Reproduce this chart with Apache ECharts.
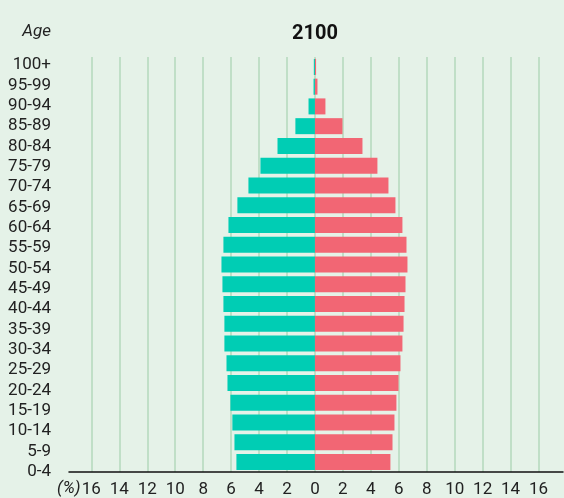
<!DOCTYPE html>
<html>
<head>
<meta charset="utf-8">
<script src="https://cdn.jsdelivr.net/npm/echarts@6/dist/echarts.min.js"></script>
<style>
  html, body { margin: 0; padding: 0; background: #e5f2e8; }
  #main { width: 564px; height: 498px; }
</style>
</head>
<body>
<div id="main"></div>
<script>
// age groups, bottom to top
const ageGroups = ['0-4', '5-9', '10-14', '15-19', '20-24', '25-29', '30-34', '35-39', '40-44', '45-49',
  '50-54', '55-59', '60-64', '65-69', '70-74', '75-79', '80-84', '85-89', '90-94', '95-99', '100+'];
// % of population
const male = [5.62, 5.76, 5.91, 6.05, 6.26, 6.33, 6.48, 6.48, 6.55, 6.62,
  6.69, 6.55, 6.19, 5.55, 4.76, 3.90, 2.68, 1.40, 0.46, 0.10, 0.08];
const female = [5.40, 5.55, 5.69, 5.83, 5.98, 6.12, 6.26, 6.34, 6.41, 6.48,
  6.62, 6.55, 6.26, 5.76, 5.26, 4.47, 3.40, 1.97, 0.75, 0.18, 0.08];
const tickValues = [-16, -14, -12, -10, -8, -6, -4, -2, 0, 2, 4, 6, 8, 10, 12, 14, 16];

const font = 'Roboto';
const chart = echarts.init(document.getElementById('main'));

const option = {
  backgroundColor: '#e5f2e8',
  animation: false,
  title: {
    text: '2100',
    left: 287,
    top: 19,
    textStyle: { fontFamily: font, fontSize: 20, fontWeight: 'bold', color: '#111' }
  },
  graphic: [
    {
      type: 'text', right: 513, top: 23,
      style: { text: 'Age', fontFamily: font, fontSize: 17, fontStyle: 'italic', fill: '#222' }
    },
    {
      type: 'text', left: 57, top: 480,
      style: { text: '(%)', fontFamily: font, fontSize: 17, fontStyle: 'italic', fill: '#222' }
    }
  ],
  grid: [
    { left: 69, right: 1, top: 57, height: 417 },
    // separate grid only for the age labels (spaced a bit wider than the bars)
    { left: 69, right: 1, top: 55, height: 427 }
  ],
  xAxis: [
    {
      type: 'value',
      min: -17.6,
      max: 17.75,
      axisLine: { show: true, lineStyle: { color: '#111', width: 1.5 } },
      axisTick: { show: false, customValues: tickValues },
      splitLine: { show: true, lineStyle: { color: '#b3d8bc', width: 1.5 } },
      axisLabel: {
        customValues: tickValues,
        fontFamily: font, fontSize: 17, color: '#222', margin: 9,
        formatter: v => Math.abs(v)
      }
    },
    { type: 'value', gridIndex: 1, show: false, min: 0, max: 1 }
  ],
  yAxis: [
    {
      type: 'category',
      data: ageGroups,
      axisLine: { show: false },
      axisTick: { show: false },
      axisLabel: { show: false }
    },
    {
      type: 'category',
      gridIndex: 1,
      data: ageGroups,
      axisLine: { show: false },
      axisTick: { show: false },
      splitLine: { show: false },
      axisLabel: { interval: 0, fontFamily: font, fontSize: 17, color: '#222', margin: 18 }
    }
  ],
  series: [
    {
      name: 'male',
      type: 'bar',
      data: male.map(v => -v),
      barWidth: 16,
      barGap: '-100%',
      itemStyle: { color: '#00cdb4' }
    },
    {
      name: 'female',
      type: 'bar',
      data: female,
      barWidth: 16,
      itemStyle: { color: '#f26674' }
    }
  ]
};

chart.setOption(option);
</script>
</body>
</html>
